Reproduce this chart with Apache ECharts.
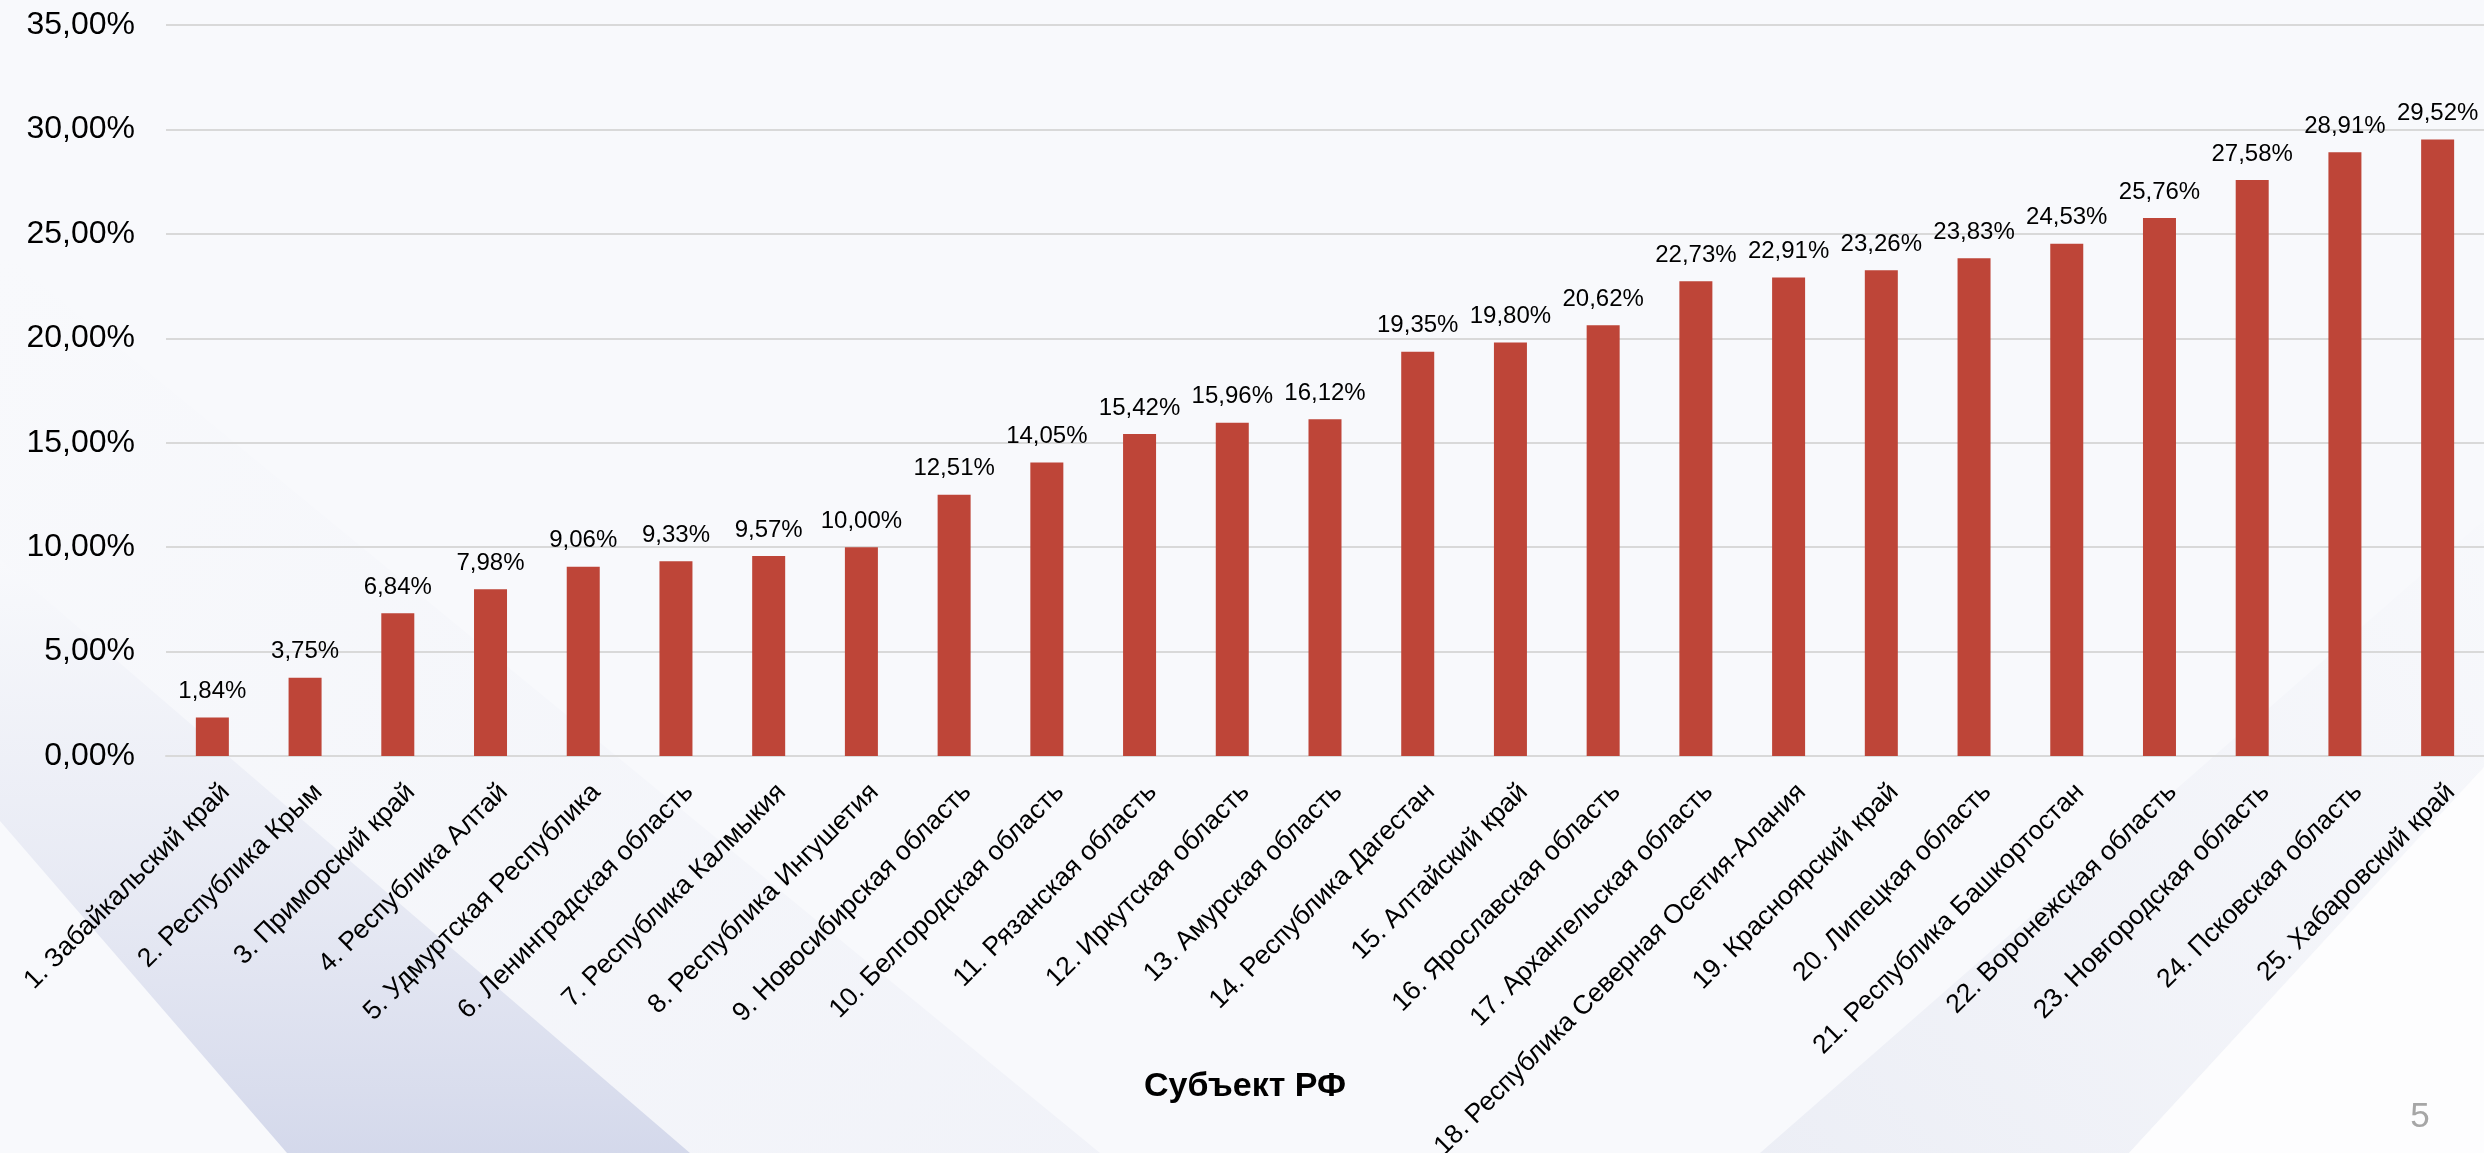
<!DOCTYPE html>
<html>
<head>
<meta charset="utf-8">
<script src="https://cdn.jsdelivr.net/npm/echarts@6/dist/echarts.min.js"></script>
<style>
html,body{margin:0;padding:0;background:#f8f9fc;}
#main{width:2484px;height:1153px;}
</style>
</head>
<body>
<div id="main"></div>
<script>
const categories = [
  '1. Забайкальский край',
  '2. Республика Крым',
  '3. Приморский край',
  '4. Республика Алтай',
  '5. Удмуртская Республика',
  '6. Ленинградская область',
  '7. Республика Калмыкия',
  '8. Республика Ингушетия',
  '9. Новосибирская область',
  '10. Белгородская область',
  '11. Рязанская область',
  '12. Иркутская область',
  '13. Амурская область',
  '14. Республика Дагестан',
  '15. Алтайский край',
  '16. Ярославская область',
  '17. Архангельская область',
  '18. Республика Северная Осетия-Алания',
  '19. Красноярский край',
  '20. Липецкая область',
  '21. Республика Башкортостан',
  '22. Воронежская область',
  '23. Новгородская область',
  '24. Псковская область',
  '25. Хабаровский край'
];
const values = [1.84, 3.75, 6.84, 7.98, 9.06, 9.33, 9.57, 10.00, 12.51, 14.05, 15.42, 15.96, 16.12, 19.35, 19.80, 20.62, 22.73, 22.91, 23.26, 23.83, 24.53, 25.76, 27.58, 28.91, 29.52];
const yTickLabels = ['0,00%', '5,00%', '10,00%', '15,00%', '20,00%', '25,00%', '30,00%', '35,00%'];
const axisTitle = 'Субъект РФ';
const pageNumber = '5';

const FONT = "'Liberation Sans', Arial, sans-serif";
const fmt = v => v.toFixed(2).replace('.', ',') + '%';

const chart = echarts.init(document.getElementById('main'), null, {renderer: 'canvas'});
chart.setOption({
  backgroundColor: '#f8f9fc',
  animation: false,
  graphic: [
    { type: 'polygon', z: -100, silent: true,
      shape: { points: [[0, 250], [0, 560], [690, 1153], [1100, 1153]] },
      style: { fill: new echarts.graphic.LinearGradient(0, 0, 1, 1, [
        { offset: 0, color: 'rgba(240,242,248,0)' },
        { offset: 1, color: 'rgba(236,238,246,0.6)' }]) } },
    { type: 'polygon', z: -99, silent: true,
      shape: { points: [[0, 821], [287, 1153], [690, 1153], [0, 560]] },
      style: { fill: new echarts.graphic.LinearGradient(0, 0, 0, 1, [
        { offset: 0, color: 'rgba(215,219,236,0)' },
        { offset: 0.5, color: 'rgba(215,219,236,0.45)' },
        { offset: 1, color: 'rgba(208,213,233,0.9)' }]) } },
    { type: 'polygon', z: -98, silent: true,
      shape: { points: [[2484, 520], [2484, 767], [2129, 1153], [1760, 1153]] },
      style: { fill: new echarts.graphic.LinearGradient(1, 0, 0, 1, [
        { offset: 0, color: 'rgba(232,234,243,0.05)' },
        { offset: 1, color: 'rgba(228,231,241,0.6)' }]) } },
    { type: 'polygon', z: -97, silent: true,
      shape: { points: [[2484, 767], [2484, 1153], [2129, 1153]] },
      style: { fill: '#fdfdfe' } },
    { type: 'text', z: 10, x: 1245, y: 1087,
      style: { text: axisTitle, fill: '#000', font: "bold 34px " + FONT,
               textAlign: 'center', textVerticalAlign: 'middle' } },
    { type: 'text', z: 10, x: 2420, y: 1117,
      style: { text: pageNumber, fill: '#a6a6a6', font: "35px " + FONT,
               textAlign: 'center', textVerticalAlign: 'middle' } }
  ],
  grid: { left: 166, right: 0, top: 25, bottom: 397, containLabel: false, outerBoundsMode: 'none' },
  xAxis: {
    type: 'category',
    data: categories,
    axisLine: { show: true, lineStyle: { color: '#d9d9d9', width: 2 } },
    axisTick: { show: false },
    axisLabel: {
      rotate: 45, interval: 0, margin: 19,
      align: 'right', verticalAlign: 'top', padding: [5, 0, 0, 0],
      color: '#000', fontSize: 26.5, fontFamily: FONT
    }
  },
  yAxis: {
    type: 'value', min: 0, max: 35, interval: 5,
    axisLine: { show: false }, axisTick: { show: false },
    splitLine: { show: true, lineStyle: { color: '#d9d9d9', width: 2 } },
    axisLabel: {
      margin: 31, color: '#000', fontSize: 32, fontFamily: FONT,
      formatter: (v) => yTickLabels[Math.round(v / 5)]
    }
  },
  series: [{
    type: 'bar',
    data: values,
    barWidth: 33,
    itemStyle: { color: '#be4538' },
    label: {
      show: true, position: 'top', distance: 14,
      color: '#000', fontSize: 24, fontFamily: FONT,
      formatter: (p) => fmt(p.value)
    }
  }]
});
</script>
</body>
</html>
